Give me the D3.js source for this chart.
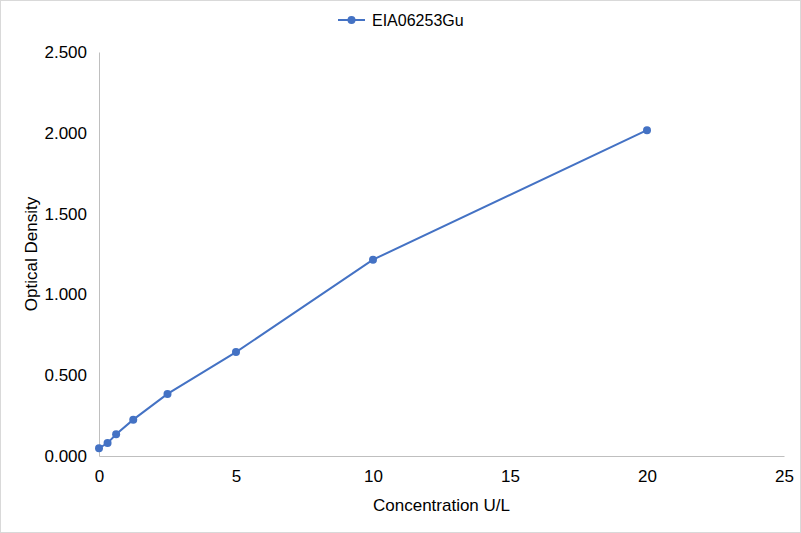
<!DOCTYPE html>
<html>
<head>
<meta charset="utf-8">
<script src="https://cdn.jsdelivr.net/npm/d3@7"></script>
<style>
  body { margin: 0; background: #fff; }
  text { font-family: "Liberation Sans", Arial, sans-serif; fill: #000; }
</style>
</head>
<body>
<script>
const seriesName = "EIA06253Gu";
const concentrations = [0, 0.3125, 0.625, 1.25, 2.5, 5, 10, 20];
const densities = [0.048, 0.080, 0.135, 0.225, 0.384, 0.643, 1.215, 2.016];
const xTicks = [0, 5, 10, 15, 20, 25];
const yTicks = [0, 0.5, 1.0, 1.5, 2.0, 2.5];

const W = 801, H = 533;
const margin = { top: 52, right: 17, bottom: 77, left: 99 };
const width = W - margin.left - margin.right;
const height = H - margin.top - margin.bottom;
const color = "#4472C4";

const svg = d3.select("body").append("svg")
    .attr("width", W)
    .attr("height", H);

// outer chart border
svg.append("rect")
    .attr("x", 0.5).attr("y", 0.5)
    .attr("width", W - 1).attr("height", H - 1)
    .attr("fill", "#fff")
    .attr("stroke", "#d9d9d9");

const g = svg.append("g")
    .attr("transform", `translate(${margin.left},${margin.top})`);

const x = d3.scaleLinear().domain([0, 25]).range([0, width]);
const y = d3.scaleLinear().domain([0, 2.5]).range([height, 0]);

const xAxis = g.append("g")
    .attr("transform", `translate(0,${height})`)
    .call(d3.axisBottom(x).tickValues(xTicks).tickSize(0).tickPadding(14).tickFormat(d3.format("d")));

const yAxis = g.append("g")
    .call(d3.axisLeft(y).tickValues(yTicks).tickSize(0).tickPadding(12).tickFormat(d3.format(".3f")));

[xAxis, yAxis].forEach(a => {
  a.select(".domain").attr("stroke", "#bfbfbf").attr("stroke-width", 1);
  a.selectAll("text")
    .style("font-family", "'Liberation Sans', Arial, sans-serif")
    .style("font-size", "17px")
    .attr("fill", "#000");
});

const data = concentrations.map((c, i) => ({ c, v: densities[i] }));

g.append("path")
    .datum(data)
    .attr("fill", "none")
    .attr("stroke", color)
    .attr("stroke-width", 2)
    .attr("d", d3.line().x(d => x(d.c)).y(d => y(d.v)));

g.selectAll(".pt")
    .data(data)
    .join("circle")
    .attr("class", "pt")
    .attr("cx", d => x(d.c))
    .attr("cy", d => y(d.v))
    .attr("r", 4)
    .attr("fill", color);

// axis titles
svg.append("text")
    .attr("x", margin.left + width / 2)
    .attr("y", 511)
    .attr("text-anchor", "middle")
    .style("font-size", "17px")
    .text("Concentration U/L");

svg.append("text")
    .attr("transform", `translate(37,${margin.top + height / 2}) rotate(-90)`)
    .attr("text-anchor", "middle")
    .style("font-size", "17px")
    .text("Optical Density");

// legend
const legend = svg.append("g").attr("transform", "translate(338,20)");
legend.append("line")
    .attr("x1", 0).attr("x2", 27)
    .attr("stroke", color).attr("stroke-width", 2);
legend.append("circle")
    .attr("cx", 13.5).attr("r", 4).attr("fill", color);
legend.append("text")
    .attr("x", 34).attr("dy", "0.35em")
    .style("font-size", "16px")
    .text(seriesName);
</script>
</body>
</html>
